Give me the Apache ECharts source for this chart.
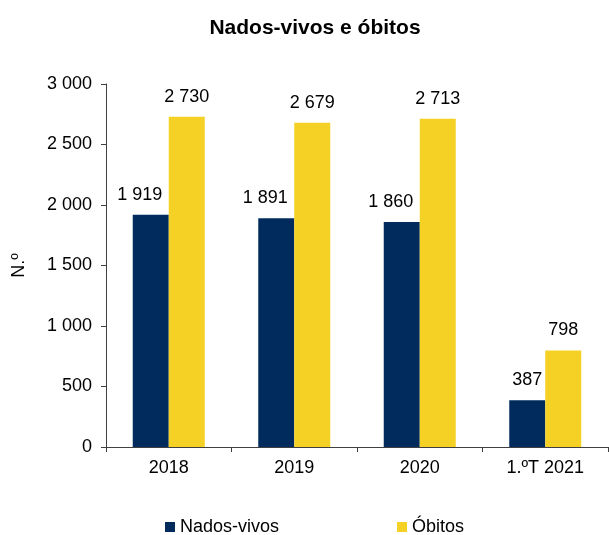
<!DOCTYPE html>
<html style="height: 100%">
<head>
    <meta charset="utf-8">
    <script src="https://cdn.jsdelivr.net/npm/echarts@6/dist/echarts.min.js"></script>
</head>
<body style="height: 100%; margin: 0; background: #fff">
<div id="container" style="width: 609px; height: 535px;"></div>
<script type="text/javascript">
var categories = ['2018', '2019', '2020', '1.ºT 2021'];
var nadosVivos = [1919, 1891, 1860, 387];
var obitos = [2730, 2679, 2713, 798];

var FONT = 'Liberation Sans, Arial, sans-serif';

function fmt(v) {
    return String(v).replace(/\B(?=(\d{3})+(?!\d))/g, ' ');
}

var dom = document.getElementById('container');
var myChart = echarts.init(dom);

var option = {
    animation: false,
    textStyle: { fontFamily: FONT, color: '#000' },
    title: {
        text: 'Nados-vivos e óbitos',
        left: 310,
        textAlign: 'center',
        top: 13,
        textStyle: { fontFamily: FONT, fontSize: 21, fontWeight: 'bold', color: '#000' }
    },
    legend: {
        left: 165,
        top: 518,
        padding: 0,
        itemWidth: 10,
        itemHeight: 10,
        itemGap: 118,
        icon: 'rect',
        textStyle: { fontFamily: FONT, fontSize: 18, color: '#000' },
        data: ['Nados-vivos', 'Óbitos']
    },
    grid: { left: 106, right: 1, top: 84, bottom: 88, containLabel: false },
    xAxis: {
        type: 'category',
        data: categories,
        axisLine: { lineStyle: { color: '#404040', width: 1 } },
        axisTick: { show: true, length: 5, alignWithLabel: false, lineStyle: { color: '#404040' } },
        axisLabel: { fontFamily: FONT, fontSize: 18, color: '#000', margin: 12 }
    },
    yAxis: {
        type: 'value',
        min: 0,
        max: 3000,
        interval: 500,
        name: 'N.º',
        nameLocation: 'middle',
        nameGap: 78,
        nameRotate: 90,
        nameTextStyle: { fontFamily: FONT, fontSize: 18, color: '#000' },
        axisLine: { show: true, lineStyle: { color: '#404040', width: 1 } },
        axisTick: { show: true, length: 5, lineStyle: { color: '#404040' } },
        splitLine: { show: false },
        axisLabel: {
            fontFamily: FONT, fontSize: 18, color: '#000', margin: 14,
            formatter: function (v) { return fmt(v); }
        }
    },
    series: [{
        name: 'Nados-vivos',
        type: 'bar',
        barWidth: 36,
        barGap: '0%',
        itemStyle: { color: '#002b5c' },
        data: nadosVivos.map(function (v) {
            return { value: v, label: { offset: [v >= 1000 ? -11 : 0, 0] } };
        }),
        label: {
            show: true, position: 'top', distance: 11,
            fontFamily: FONT, fontSize: 18, color: '#000',
            formatter: function (p) { return fmt(p.value); }
        }
    }, {
        name: 'Óbitos',
        type: 'bar',
        barWidth: 36,
        barGap: '0%',
        itemStyle: { color: '#f5d126' },
        data: obitos,
        label: {
            show: true, position: 'top', distance: 11,
            fontFamily: FONT, fontSize: 18, color: '#000',
            formatter: function (p) { return fmt(p.value); }
        }
    }]
};

myChart.setOption(option);
</script>
</body>
</html>
